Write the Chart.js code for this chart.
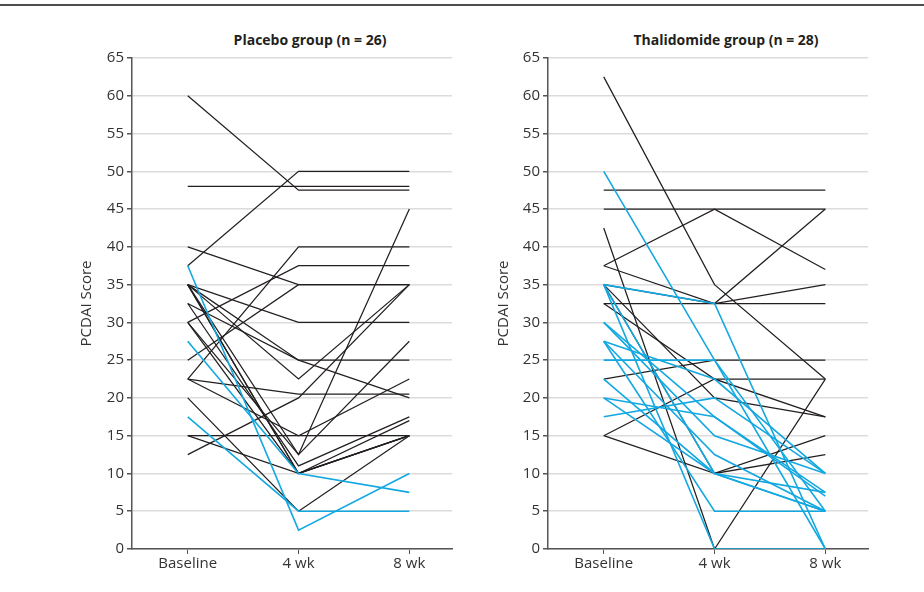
<!DOCTYPE html>
<html>
<head>
<meta charset="utf-8">
<title>PCDAI Score by group</title>
<script src="https://cdn.jsdelivr.net/npm/chart.js@4.4.1/dist/chart.umd.min.js"></script>
<style>
  body { margin: 0; background: #fff; width: 924px; height: 592px; position: relative; overflow: hidden; }
  .rule { position: absolute; left: 0; top: 4px; width: 924px; height: 2px; background: #4d4d4d; }
  .panel-title {
    position: absolute; top: 31px; transform: translateX(-50%); white-space: nowrap;
    font: bold 14px/18px 'Open Sans', sans-serif; color: #231f20;
  }
  canvas { position: absolute; top: 0; }
</style>
</head>
<body>
<div class="rule"></div>
<div class="panel-title" style="left:310px">Placebo group (n = 26)</div>
<div class="panel-title" style="left:726px">Thalidomide group (n = 28)</div>
<canvas id="placebo-chart" width="462" height="592" style="left:0"></canvas>
<canvas id="thalidomide-chart" width="462" height="592" style="left:462px"></canvas>
<script>
const weeks = ['Baseline', '4 wk', '8 wk'];
const yTicks = [0, 65, 5]; // min, max, step

// each row: one patient, score at baseline, 4 wk, 8 wk
const placeboResponse = [
    [37.5, 2.5, 10],
    [27.5, 10, 7.5],
    [17.5, 5, 5]
];
const placeboNoResponse = [
    [60, 47.5, 47.5],
    [48, 48, 48],
    [37.5, 50, 50],
    [40, 35, 35],
    [22.5, 40, 40],
    [30, 37.5, 37.5],
    [25, 35, 35],
    [35, 30, 30],
    [35, 25, 25],
    [32.5, 25, 20],
    [35, 22.5, 35],
    [22.5, 20.5, 20.5],
    [12.5, 20, 35],
    [15, 15, 15],
    [22.5, 15, 22.5],
    [35, 12.5, 45],
    [30, 12.5, 27.5],
    [32.5, 11, 17.5],
    [35, 10, 17],
    [30, 10, 15],
    [35, 10, 15],
    [15, 10, 15],
    [20, 5, 15]
];

const thalidomideResponse = [
    [50, 25, 5],
    [35, 32.5, 0],
    [35, 0, 0],
    [35, 10, 7.5],
    [30, 15, 10],
    [27.5, 22.5, 10],
    [27.5, 12.5, 5],
    [27.5, 5, 5],
    [25, 25, 0],
    [22.5, 10, 5],
    [20, 17.5, 7],
    [20, 10, 5],
    [17.5, 20, 10],
    [30, 17.5, 7.5]
];
const thalidomideNoResponse = [
    [62.5, 35, 22.5],
    [47.5, 47.5, 47.5],
    [45, 45, 37],
    [37.5, 45, 45],
    [37.5, 32.5, 32.5],
    [42.5, 0, 22.5],
    [32.5, 32.5, 45],
    [35, 32.5, 35],
    [32.5, 22.5, 22.5],
    [15, 22.5, 17.5],
    [22.5, 25, 25],
    [15, 10, 15],
    [35, 10, 12.5],
    [35, 20, 17.5]
];

Chart.defaults.font.family = "'Open Sans', sans-serif";
Chart.defaults.color = '#333';

function toDatasets(rows, color, width) {
    return rows.map(row => ({
        data: row.map((v, i) => ({ x: i, y: v })),
        borderColor: color,
        borderWidth: width,
        pointRadius: 0,
        tension: 0,
        fill: false
    }));
}

function makePanel(canvasId, response, noResponse, axisWidth, titlePad, padRight) {
    // blue lines first so they are drawn on top
    const datasets = toDatasets(response, '#13a8e0', 1.6)
        .concat(toDatasets(noResponse, '#231f20', 1.25));

    return new Chart(document.getElementById(canvasId), {
        type: 'line',
        data: { datasets },
        options: {
            responsive: false,
            animation: false,
            layout: { padding: { top: 58, right: padRight, bottom: 0, left: 0 } },
            plugins: { legend: { display: false }, tooltip: { enabled: false } },
            scales: {
                x: {
                    type: 'linear',
                    min: -0.503,
                    max: 2.385,
                    afterBuildTicks: scale => { scale.ticks = weeks.map((w, i) => ({ value: i })); },
                    afterFit: scale => { scale.height = 43; },
                    ticks: {
                        callback: value => weeks[value],
                        font: { size: 15 },
                        padding: 1,
                        maxRotation: 0,
                        autoSkip: false
                    },
                    grid: { drawOnChartArea: false, tickLength: 5, color: '#555' },
                    border: { color: '#555', width: 1.5 }
                },
                y: {
                    min: yTicks[0],
                    max: yTicks[1],
                    afterFit: scale => { scale.width = axisWidth; },
                    ticks: { stepSize: yTicks[2], font: { size: 15 }, padding: 3 },
                    grid: { color: '#dcdcdc', lineWidth: 1.5, tickColor: '#555', tickLength: 5 },
                    border: { color: '#555', width: 1.5 },
                    title: {
                        display: true,
                        text: 'PCDAI Score',
                        font: { size: 15 },
                        padding: { top: titlePad, bottom: 0 }
                    }
                }
            }
        }
    });
}

document.addEventListener('DOMContentLoaded', () => {
    makePanel('placebo-chart', placeboResponse, placeboNoResponse, 132, 78, 10);
    makePanel('thalidomide-chart', thalidomideResponse, thalidomideNoResponse, 86, 33, 56);
});
</script>
</body>
</html>
